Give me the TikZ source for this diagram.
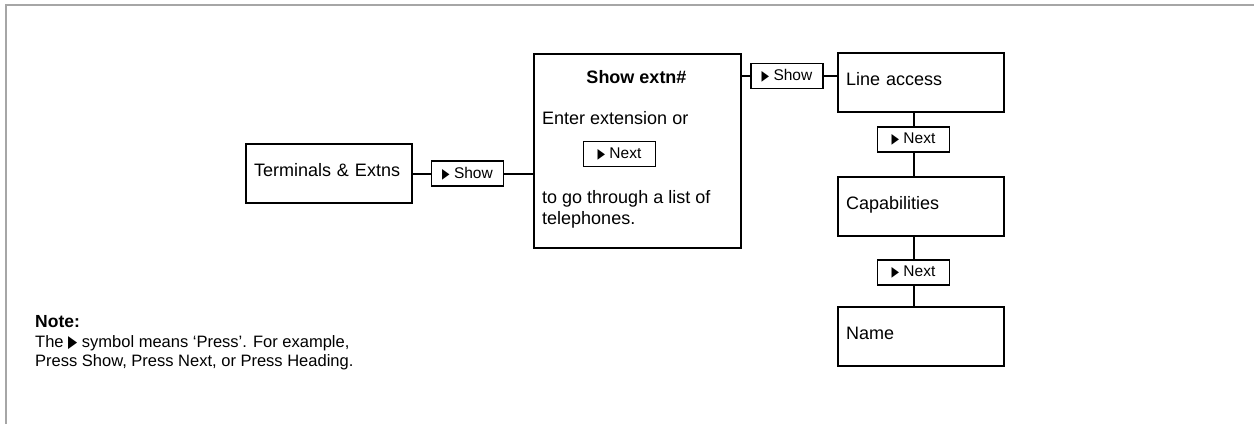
\documentclass[tikz,border=0pt]{standalone}
\usepackage{fontspec}
\setmainfont{Liberation Sans}
\newfontfamily\symfont{DejaVu Sans}
\newcommand{\pressmark}[1][14]{{\symfont\fontsize{#1}{#1}\selectfont\scalebox{0.7}[1]{▶}}}
\tikzset{
  menubox/.style={draw, line width=2pt, anchor=north west, text width=150pt, inner xsep=8pt, inner ysep=0pt,
    align=left, text height=32pt, text depth=27pt, font=\fontsize{18}{21}\selectfont},
  presskey/.style={draw, line width=1.8pt, minimum width=72pt, minimum height=25pt, inner sep=0pt,
    font=\fontsize{15.5}{18}\selectfont},
  link/.style={line width=2pt}
}
\begin{document}
\begin{tikzpicture}[x=1pt, y=-1pt]
    \useasboundingbox (0,0) rectangle (1254,424);
    \draw [line width=2pt, color=black!35] (6,424) -- (6,5) -- (1254,5);
    % left part
    \node [menubox] (term) at (245,143) {Terminals \& Extns};
    \node [presskey] (show) at (467.5,173.5) {\pressmark\ Show};
    \node [draw, line width=2pt, anchor=north west, minimum width=207pt, minimum height=194pt, inner sep=0pt] (extn) at (533,53) {};
    \node [font=\fontsize{18}{21}\selectfont\bfseries] (title) at (636.5,77) {Show extn\#};
    \node [anchor=base west, inner sep=0pt, font=\fontsize{18}{21}\selectfont] (enter) at (542,124.5) {Enter extension or};
    \node [presskey] (browse) at (619.5,154) {\pressmark\ Next};
    \node [anchor=north west, align=left, inner sep=0pt, font=\fontsize{18}{21}\selectfont] (list) at (542,190.5) {to go through a list of\\telephones.};
    % right column
    \node [presskey] (show2) at (787,76) {\pressmark\ Show};
    \node [menubox] (access) at (837,52) {Line access};
    \node [presskey] (next1) at (913.5,139.5) {\pressmark\ Next};
    \node [menubox] (cap) at (837,176) {Capabilities};
    \node [presskey] (next2) at (913.5,272.5) {\pressmark\ Next};
    \node [menubox] (name) at (837,306) {Name};
    % note
    \node [anchor=north west, align=left, inner sep=0pt, font=\fontsize{16.5}{19.5}\selectfont] (note) at (35,315.5)
        {{\fontsize{17.5}{19.5}\selectfont\bfseries Note:}\\The \pressmark[17]\ symbol means ‘Press’. For example,\\Press Show, Press Next, or Press Heading.};
    % connectors
    \draw [link] (show.west -| term.east) -- (show.west);
    \draw [link] (show.east) -- (show.east -| extn.west);
    \draw [link] (show2.west -| extn.east) -- (show2.west);
    \draw [link] (show2.east) -- (show2.east -| access.west);
    \draw [link] (next1.north |- access.south) -- (next1.north);
    \draw [link] (next1.south) -- (next1.south |- cap.north);
    \draw [link] (next2.north |- cap.south) -- (next2.north);
    \draw [link] (next2.south) -- (next2.south |- name.north);
\end{tikzpicture}
\end{document}
